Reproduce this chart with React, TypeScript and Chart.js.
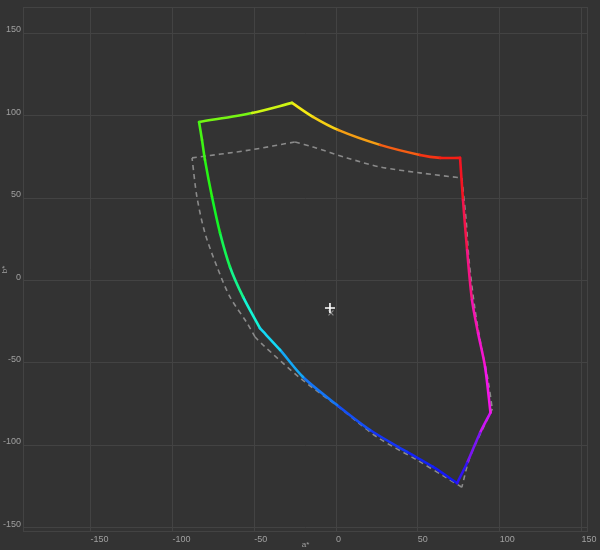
import React, { useEffect, useRef } from "react";
import { Chart, registerables } from "chart.js";

Chart.register(...registerables);

// Measured gamut (solid, hue-coloured) in a*, b*
const gamutA = [75.8, 77.6, 80.1, 83.1, 86.8, 91.1, 94.4, 88.0, 80.1, 74.0, 59.3, 43.4, 20.8, 0.6, -20.2, -34.2, -46.5, -56.8, -64.8, -70.9, -75.8, -80.1, -81.9, -83.7, -51.3, -26.9, -14.1, 1.2, 26.9, 51.3, 63.6, 75.8];
const gamutB = [74.4, 48.9, 18.5, -11.8, -31.9, -52.5, -80.2, -92.6, -110.8, -123.0, -113.2, -104.1, -90.8, -75.6, -58.6, -42.2, -29.0, -10.0, 8.2, 28.9, 50.8, 73.2, 85.3, 96.2, 101.7, 107.8, 99.3, 91.4, 82.3, 76.2, 74.4, 74.4];
// indices of the polygon corners (red, magenta, blue, cyan, green, yellow, red)
const gamutCorners = [0, 6, 9, 16, 23, 25, 31];

// Reference gamut (dashed grey)
const refA = [76.9, 79.5, 81.3, 85.0, 89.2, 92.9, 95.5, 81.9, 76.9, 67.8, 49.5, 25.0, 2.4, -22.0, -44.6, -49.5, -54.4, -64.8, -72.7, -80.1, -85.0, -88.0, -52.6, -25.0, -14.1, 6.7, 26.9, 51.3, 76.9];
const refB = [62.2, 36.6, 12.4, -18.0, -42.2, -60.4, -78.0, -107.2, -125.5, -120.0, -109.0, -95.0, -77.4, -59.2, -39.2, -34.3, -25.8, -10.0, 8.2, 28.8, 50.7, 74.4, 79.2, 84.1, 81.0, 74.4, 68.9, 65.3, 62.2];
const refCorners = [0, 6, 8, 15, 21, 23, 28];

// White point markers
const whiteA = [-3.7];
const whiteB = [-16.7];
const refWhiteA = [-3.1];
const refWhiteB = [-19.7];

const xTickValues = [-150, -100, -50, 0, 50, 100, 150];
const yTickValues = [-150, -100, -50, 0, 50, 100, 150];

const toPoints = (xs: number[], ys: number[]) => xs.map((x, i) => ({ x, y: ys[i] }));

const sides = (xs: number[], ys: number[], corners: number[]) => {
  const pts = toPoints(xs, ys);
  const out: { x: number; y: number }[][] = [];
  for (let i = 0; i < corners.length - 1; i++) out.push(pts.slice(corners[i], corners[i + 1] + 1));
  return out;
};

// Lab hue angle -> display hue anchors
const hueAnchors: [number, number][] = [
  [44, 0], [104, 60], [131, 105], [210, 180], [301, 240], [320, 300], [404, 360],
];

function hueColor(a: number, b: number): string {
  let h = (Math.atan2(b, a) * 180) / Math.PI;
  if (h < 0) h += 360;
  if (h < 44) h += 360;
  let d = 0;
  for (let i = 0; i < hueAnchors.length - 1; i++) {
    const [h0, d0] = hueAnchors[i];
    const [h1, d1] = hueAnchors[i + 1];
    if (h >= h0 && h <= h1) {
      d = d0 + ((h - h0) / (h1 - h0)) * (d1 - d0);
      break;
    }
  }
  return `hsl(${d % 360}, 92%, 52%)`;
}

const GRID = "#434343";

const bgPlugin = {
  id: "bgFrame",
  beforeDraw(chart: any) {
    const ctx = chart.ctx;
    ctx.save();
    ctx.fillStyle = "#333333";
    ctx.fillRect(0, 0, chart.width, chart.height);
    ctx.restore();
  },
  beforeDatasetsDraw(chart: any) {
    const { ctx, chartArea } = chart;
    ctx.save();
    ctx.strokeStyle = GRID;
    ctx.lineWidth = 1;
    ctx.strokeRect(
      Math.round(chartArea.left) + 0.5,
      Math.round(chartArea.top) + 0.5,
      Math.round(chartArea.right - chartArea.left) - 1,
      Math.round(chartArea.bottom - chartArea.top) - 1
    );
    ctx.restore();
  },
};

export default function App() {
  const ref = useRef<HTMLCanvasElement | null>(null);

  useEffect(() => {
    document.body.style.margin = "0";
    if (!ref.current) return;
    const font = { family: "'Liberation Sans', Arial, sans-serif", size: 9 };

    const refSets = sides(refA, refB, refCorners).map((data) => ({
      label: "reference",
      data,
      showLine: true,
      borderColor: "#8a8a8a",
      borderWidth: 1.6,
      borderDash: [5, 4],
      pointRadius: 0,
      tension: 0.3,
      order: 3,
    }));
    const gamutSets = sides(gamutA, gamutB, gamutCorners).map((data) => ({
      label: "gamut",
      data,
      showLine: true,
      borderWidth: 2.6,
      borderColor: "#ffffff",
      borderCapStyle: "round",
      borderJoinStyle: "round",
      pointRadius: 0,
      tension: 0.3,
      order: 2,
      segment: {
        borderColor: (c: any) =>
          hueColor((c.p0.parsed.x + c.p1.parsed.x) / 2, (c.p0.parsed.y + c.p1.parsed.y) / 2),
      },
    }));

    const chart = new Chart(ref.current, {
      type: "scatter",
      data: {
        datasets: [
          ...refSets,
          ...gamutSets,
          {
            label: "ref white",
            data: toPoints(refWhiteA, refWhiteB),
            pointStyle: "crossRot",
            pointRadius: 3.5,
            borderColor: "#8a8a8a",
            borderWidth: 1.2,
            order: 1,
          },
          {
            label: "white",
            data: toPoints(whiteA, whiteB),
            pointStyle: "cross",
            pointRadius: 5,
            borderColor: "#ffffff",
            borderWidth: 1.6,
            order: 0,
          },
        ] as any,
      },
      options: {
        animation: false,
        responsive: false,
        maintainAspectRatio: false,
        layout: { padding: { top: 7, right: 12, left: 0, bottom: 0 } },
        plugins: { legend: { display: false }, tooltip: { enabled: false } },
        scales: {
          x: {
            type: "linear",
            min: -191.3,
            max: 154,
            afterBuildTicks: (s: any) => {
              s.ticks = xTickValues.map((v) => ({ value: v }));
            },
            afterFit: (s: any) => {
              s.height = 18;
              s.paddingLeft = 0;
              s.paddingRight = 0;
            },
            grid: { color: GRID, drawTicks: false },
            border: { display: false },
            ticks: { color: "#a0a0a0", font, padding: 2, maxRotation: 0, autoSkip: false, align: "start" },
            title: { display: true, text: "a*", color: "#a0a0a0", font: { ...font, size: 8 }, padding: 0 },
          },
          y: {
            type: "linear",
            min: -152.7,
            max: 166,
            afterBuildTicks: (s: any) => {
              s.ticks = yTickValues.map((v) => ({ value: v }));
            },
            afterFit: (s: any) => {
              s.width = 23;
              s.paddingTop = 0;
              s.paddingBottom = 0;
            },
            grid: { color: GRID, drawTicks: false },
            border: { display: false },
            ticks: {
              color: "#a0a0a0",
              font: { ...font, lineHeight: 0.75 },
              padding: 2,
              autoSkip: false,
              callback: (v: any) => [String(v), ""],
            },
            title: { display: true, text: "b*", color: "#a0a0a0", font: { ...font, size: 8 }, padding: 0 },
          },
        },
      } as any,
      plugins: [bgPlugin],
    });
    return () => chart.destroy();
  }, []);

  return (
    <div style={{ width: 600, height: 550 }}>
      <canvas ref={ref} width={600} height={550} style={{ display: "block" }} />
    </div>
  );
}
